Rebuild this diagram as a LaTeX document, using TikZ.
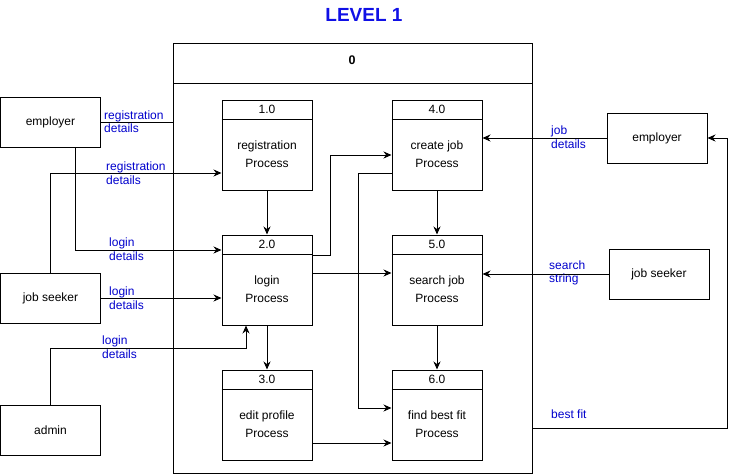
\documentclass[tikz,border=0pt]{standalone}
\usepackage{fontspec}
\setmainfont{Liberation Sans}
\usetikzlibrary{arrows.meta}
\definecolor{lblblue}{RGB}{0,0,204}
\definecolor{ttlblue}{RGB}{16,16,230}
\tikzset{
  every node/.style={font=\fontsize{12}{18}\selectfont},
  ent/.style={draw, line width=1pt, minimum width=100pt, minimum height=50pt, inner sep=0pt},
  pbox/.style={draw, line width=1pt, minimum width=90pt, minimum height=90pt, inner sep=0pt},
  flow/.style={line width=1pt, -{Stealth[length=8pt,width=7pt]}},
  plain/.style={line width=1pt},
  lbl/.style={text=lblblue, font=\fontsize{12}{13.5}\selectfont, align=left, anchor=west, inner sep=0pt},
}
\begin{document}
\begin{tikzpicture}[x=1pt,y=-1pt]
\useasboundingbox (0,0) rectangle (737,474);
% title
\node[text=ttlblue, font=\fontsize{19}{22}\selectfont\bfseries] (title) at (364,15) {LEVEL 1};
% outer process box
\node[draw, line width=1pt, minimum width=359pt, minimum height=430pt, inner sep=0pt, anchor=north west] (outer) at (173,43) {};
\draw[plain] (173,83) -- (532,83);
\node[font=\fontsize{12.5}{14}\selectfont\bfseries] (zero) at (352,60) {0};
% processes
\newcommand{\proc}[5]{%
  \node[pbox] (#1) at (#2,#3) {};
  \draw[plain] ([yshift=-20pt]#1.north west) -- ([yshift=-20pt]#1.north east);
  \node (#1h) at ([yshift=-10pt]#1.north) {#4};
  \node[align=center] (#1t) at ([yshift=-9pt]#1.center) {#5};
}
\proc{p1}{267}{145}{1.0}{registration\\Process}
\proc{p2}{267}{280}{2.0}{login\\Process}
\proc{p3}{267}{415}{3.0}{edit profile\\Process}
\proc{p4}{437}{145}{4.0}{create job\\Process}
\proc{p5}{437}{280}{5.0}{search job\\Process}
\proc{p6}{437}{415}{6.0}{find best fit\\Process}
% entities
\node[ent] (emp1) at (50.5,122) {employer};
\node[ent] (js1) at (50.5,298) {job seeker};
\node[ent] (adm) at (50.5,430) {admin};
\node[ent] (emp2) at (657,138) {employer};
\node[ent] (js2) at (659,274) {job seeker};
% connectors left
\draw[plain] (emp1.east) -- (emp1.east -| outer.west);
\node[lbl] (l1) at (104,121.5) {registration\\details};
\draw[flow] (js1.north) |- ([yshift=-28pt]p1.west);
\node[lbl] (l2) at (106,173) {registration\\details};
\draw[flow] ([xshift=25pt]emp1.south) |- ([yshift=30pt]p2.west);
\node[lbl] (l3) at (109,249) {login\\details};
\draw[flow] (js1.east) -- (js1.east -| p2.west);
\node[lbl] (l4) at (109,298) {login\\details};
\coordinate (a5) at (246,348);
\draw[flow] (adm.north) |- (a5) -- (a5 |- p2.south);
\node[lbl] (l5) at (102,347) {login\\details};
% internal
\draw[flow] (p1.south) -- (p2.north);
\draw[flow] (p2.south) -- (p3.north);
\draw[flow] (p4.south) -- (p5.north);
\draw[flow] (p5.south) -- (p6.north);
\coordinate (k10) at (330,155);
\draw[flow] ([yshift=25pt]p2.east) -| (k10) -- (k10 -| p4.west);
\coordinate (k11a) at (358,173);
\coordinate (k11b) at (358,408);
\draw[flow] (k11a -| p4.west) -- (k11a) -- (k11b) -- (k11b -| p6.west);
\draw[flow] ([yshift=7pt]p2.east) -- ([yshift=7pt]p2.east -| p5.west);
\draw[flow] ([yshift=-28pt]p3.east) -- ([yshift=-28pt]p3.east -| p6.west);
% right
\draw[flow] (emp2.west) -- (emp2.west -| p4.east);
\node[lbl] (l6) at (551,137) {job\\details};
\draw[flow] (js2.west) -- (js2.west -| p5.east);
\node[lbl] (l7) at (549,273) {search\\string};
\coordinate (k16) at (727,428);
\draw[flow] (k16 -| outer.east) -- (k16) |- (emp2.east);
\node[lbl] (l8) at (551,414) {best fit};
\end{tikzpicture}
\end{document}
